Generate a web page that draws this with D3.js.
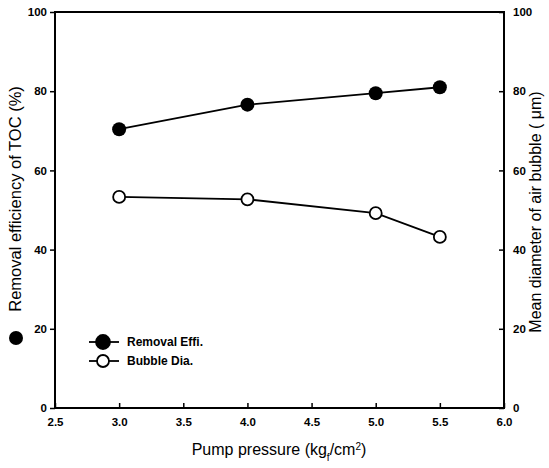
<!DOCTYPE html>
<html>
<head>
<meta charset="utf-8">
<script src="https://cdn.jsdelivr.net/npm/d3@7"></script>
<style>
  body { margin: 0; background: #fff; }
  text { font-family: "Liberation Sans", Arial, sans-serif; }
</style>
</head>
<body>
<div id="chart"></div>
<script>
const pressure = [3.0, 4.0, 5.0, 5.5];
const removalEffi = [70.4, 76.6, 79.5, 81.0];
const bubbleDia = [53.3, 52.7, 49.2, 43.2];
const xTicks = [2.5, 3.0, 3.5, 4.0, 4.5, 5.0, 5.5, 6.0];
const yTicks = [0, 20, 40, 60, 80, 100];

const W = 549, H = 468;
const m = {left: 55, right: 504, top: 12, bottom: 408};

const svg = d3.select("#chart").append("svg")
    .attr("width", W).attr("height", H);

const x = d3.scaleLinear().domain([2.5, 6.0]).range([m.left, m.right]);
const yL = d3.scaleLinear().domain([0, 100]).range([m.bottom, m.top]);
const yR = d3.scaleLinear().domain([0, 100]).range([m.bottom, m.top]);

// frame
svg.append("rect")
    .attr("x", m.left).attr("y", m.top)
    .attr("width", m.right - m.left).attr("height", m.bottom - m.top)
    .attr("fill", "none").attr("stroke", "#000").attr("stroke-width", 2);

// bottom axis, ticks pointing in
const xAxis = svg.append("g")
    .attr("transform", `translate(0,${m.bottom})`)
    .call(d3.axisBottom(x).tickValues(xTicks).tickSizeInner(-5).tickSizeOuter(0)
        .tickPadding(10).tickFormat(d3.format(".1f")));
xAxis.select(".domain").remove();

// left axis, ticks pointing out
const lAxis = svg.append("g")
    .attr("transform", `translate(${m.left},0)`)
    .call(d3.axisLeft(yL).tickValues(yTicks).tickSize(5).tickSizeOuter(0).tickPadding(3));
lAxis.select(".domain").remove();

// right axis, ticks pointing in
const rAxis = svg.append("g")
    .attr("transform", `translate(${m.right},0)`)
    .call(d3.axisRight(yR).tickValues(yTicks).tickSizeInner(-5).tickSizeOuter(0).tickPadding(9));
rAxis.select(".domain").remove();

svg.selectAll(".tick line").attr("stroke", "#000").attr("stroke-width", 1.5);
svg.selectAll(".tick text")
    .attr("fill", "#000")
    .style("font-size", "11.5px")
    .style("font-weight", "bold")
    .style("font-family", "'Liberation Sans', Arial, sans-serif");

// axis titles
svg.append("text")
    .attr("x", 279).attr("y", 455)
    .attr("text-anchor", "middle")
    .style("font-size", "16px")
    .html('Pump pressure (kg<tspan baseline-shift="sub" font-size="10px">f</tspan>/cm<tspan baseline-shift="super" font-size="10px">2</tspan>)');

svg.append("text")
    .attr("transform", "translate(21,199) rotate(-90)")
    .attr("text-anchor", "middle")
    .style("font-size", "16.5px")
    .text("Removal efficiency of TOC (%)");
svg.append("circle")
    .attr("cx", 16).attr("cy", 338).attr("r", 7).attr("fill", "#000");

svg.append("text")
    .attr("transform", "translate(541,212) rotate(-90)")
    .attr("text-anchor", "middle")
    .style("font-size", "16px")
    .text("Mean diameter of air bubble ( \u03bcm)");

// series
const line = yScale => d3.line().x((d, i) => x(pressure[i])).y(d => yScale(d));

svg.append("path").datum(removalEffi)
    .attr("d", line(yL))
    .attr("fill", "none").attr("stroke", "#000").attr("stroke-width", 1.8);
svg.append("path").datum(bubbleDia)
    .attr("d", line(yR))
    .attr("fill", "none").attr("stroke", "#000").attr("stroke-width", 1.8);

svg.selectAll(".effi").data(removalEffi).join("circle")
    .attr("cx", (d, i) => x(pressure[i])).attr("cy", d => yL(d))
    .attr("r", 7).attr("fill", "#000");
svg.selectAll(".dia").data(bubbleDia).join("circle")
    .attr("cx", (d, i) => x(pressure[i])).attr("cy", d => yR(d))
    .attr("r", 6).attr("fill", "#fff").attr("stroke", "#000").attr("stroke-width", 1.8);

// legend
const legend = [
  {label: "Removal Effi.", fill: "#000", r: 7},
  {label: "Bubble Dia.", fill: "#fff", r: 6}
];
const lg = svg.append("g").attr("transform", "translate(89,342)");
legend.forEach((d, i) => {
  const g = lg.append("g").attr("transform", `translate(0,${i * 19})`);
  g.append("line").attr("x1", 0).attr("x2", 30)
      .attr("stroke", "#000").attr("stroke-width", 1.8);
  g.append("circle").attr("cx", 14).attr("r", d.r)
      .attr("fill", d.fill).attr("stroke", "#000").attr("stroke-width", 1.8);
  g.append("text").attr("x", 38).attr("dy", "0.35em")
      .style("font-size", "12px").style("font-weight", "bold")
      .text(d.label);
});
</script>
</body>
</html>
